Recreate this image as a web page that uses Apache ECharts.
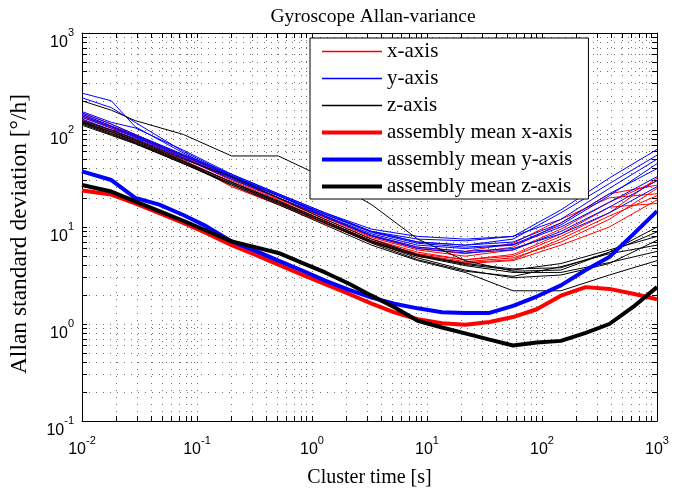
<!DOCTYPE html>
<html>
<head>
<meta charset="utf-8">
<title>Gyroscope Allan-variance</title>
<script src="https://cdn.jsdelivr.net/npm/echarts@6/dist/echarts.min.js"></script>
<style>
html, body { margin: 0; padding: 0; background: #fff; }
#chart { width: 683px; height: 493px; }
</style>
</head>
<body>
<div id="chart"></div>
<script>
// cluster times [s] of the assembly means
const tauMean = [0.01, 0.018, 0.029, 0.047, 0.076, 0.12, 0.2, 0.32, 0.51, 0.85, 1.3, 2.1, 3.3, 5.2, 8.3, 13.5, 21.5, 35, 56, 90, 146, 240, 385, 620, 1000]
// cluster times [s] of the single sensor runs
const tauRun = [0.01, 0.018, 0.029, 0.076, 0.2, 0.51, 1.3, 3.3, 8.3, 21.5, 56, 146, 385, 1000]

// assembly means [deg/h]
const meanX = [23.8, 21.6, 17.5, 13.9, 11.0, 8.7, 6.5, 5.2, 4.1, 3.17, 2.57, 2.04, 1.62, 1.32, 1.12, 1.02, 0.98, 1.05, 1.18, 1.42, 1.96, 2.4, 2.3, 2.05, 1.8]
const meanY = [37.5, 30.5, 20.0, 17.0, 13.3, 10.2, 7.1, 5.7, 4.5, 3.5, 2.8, 2.25, 1.87, 1.62, 1.45, 1.32, 1.3, 1.3, 1.54, 1.92, 2.5, 3.6, 4.9, 8.4, 14.6]
const meanZ = [27.1, 23.2, 18.4, 14.6, 11.6, 9.2, 7.1, 6.2, 5.4, 4.2, 3.4, 2.6, 1.96, 1.49, 1.08, 0.92, 0.8, 0.69, 0.6, 0.645, 0.67, 0.81, 1.0, 1.5, 2.4]

// single gyroscopes, x-axis [deg/h]
const runsX = [
  [140, 105, 86, 52, 31, 19.5, 12, 7.5, 5.5, 4.6, 5.0, 8, 14, 32],
  [125, 100, 90, 52, 30, 19, 11.5, 7.2, 5.2, 4.4, 4.8, 7, 12, 25],
  [150, 115, 90, 55, 33, 20, 12.5, 7.8, 5.8, 5.0, 5.8, 9.5, 18, 30],
  [118, 92, 75, 47, 27, 17.5, 11, 7, 5.0, 4.2, 4.5, 6.5, 10, 19],
  [135, 108, 85, 53, 32, 20, 12.5, 8, 6, 5.3, 6.2, 11, 22, 27],
  [128, 98, 80, 49, 29, 18, 11.3, 7.2, 5.3, 4.6, 5.2, 8.5, 16, 17.5],
  [145, 110, 88, 54, 33, 21, 13, 8.2, 6.2, 5.6, 6.8, 12, 20, 22],
  [122, 96, 78, 48, 26, 17, 10.8, 6.9, 5.0, 4.3, 4.6, 7.5, 13, 21]
]
// single gyroscopes, y-axis [deg/h]
const runsY = [
  [240, 200, 108, 58, 33, 21, 13.5, 9, 7.5, 7.2, 8, 15, 32, 63],
  [215, 170, 120, 60, 34, 21, 13.5, 9, 7, 6.5, 7.5, 14, 28, 55],
  [155, 120, 105, 62, 35, 22, 14, 9.5, 8, 7.5, 8, 12, 25, 50],
  [140, 108, 86, 54, 33, 21, 13, 8.5, 6.5, 6, 6.5, 10, 18, 33],
  [135, 104, 84, 52, 32, 20, 12.8, 8.2, 6.2, 5.6, 6, 8.5, 14, 26],
  [150, 115, 90, 56, 35, 22, 14, 9, 7, 6.5, 7, 11, 22, 40],
  [145, 110, 88, 55, 34, 21.5, 13.5, 8.8, 6.8, 6.2, 6.6, 10.5, 21, 45],
  [130, 100, 82, 51, 31, 20, 12.7, 8.1, 6, 5.4, 5.8, 9, 16, 30]
]
// single gyroscopes, z-axis [deg/h]
const runsZ = [
  [200, 160, 125, 90, 54, 54, 32, 17, 7.5, 4.5, 3.5, 3.6, 5.5, 8.9],
  [125, 100, 80, 50, 33, 20, 12, 7.5, 5.2, 4.2, 3.7, 3.8, 5.5, 10],
  [118, 92, 74, 46, 28, 18, 11, 7, 4.8, 3.6, 3.0, 3.2, 4.2, 7.3],
  [112, 88, 72, 45, 27, 17, 10.5, 6.5, 4.5, 3.4, 2.2, 2.2, 3.2, 4.5],
  [120, 95, 76, 47, 29, 18.5, 11.5, 7, 5, 4.0, 3.4, 3.4, 4.3, 5.6],
  [115, 90, 73, 45, 28, 17.5, 11, 6.8, 4.6, 3.5, 3.1, 3.9, 5.3, 6.5],
  [122, 96, 78, 48, 29, 18.5, 11.5, 7.2, 5.1, 4.1, 3.6, 4.2, 5.8, 8]
]

// axis labels (decades)
const xDecades = [0.01, 0.1, 1, 10, 100, 1000]
const yDecades = [0.1, 1, 10, 100, 1000]

const red = '#ff0000'
const blue = '#0000ff'
const black = '#000000'
const serif = 'Liberation Serif'
const sans = 'Liberation Sans'

// 1..9 in every decade, for ticks and the dotted grid
const withMinors = (decades) => {
  const out = []
  decades.forEach((d, i) => {
    if (i === decades.length - 1) { out.push(d); return }
    for (let k = 1; k <= 9; k++) out.push(+(d * k).toPrecision(3))
  })
  return out
}
const xTicks = withMinors(xDecades)
const yTicks = withMinors(yDecades)

const powLabel = (v) => '{b|10}{e|' + Math.round(Math.log10(v)) + '}'
const powRich = {
  b: { fontFamily: sans, fontSize: 16, color: '#000', padding: [7, 0, 0, 0], verticalAlign: 'bottom' },
  e: { fontFamily: sans, fontSize: 11, color: '#000', verticalAlign: 'top' }
}

const gridLine = { show: true, lineStyle: { color: '#000', width: 1, type: [1, 6], opacity: 0.55 } }

// legend samples: thin and thick line strokes
const thinIcon = 'path://M0,0h60v1.5h-60z'
const thickIcon = 'path://M0,0h60v4h-60z'
const legendItem = (name, icon, color) => ({
  name,
  icon,
  itemStyle: { color, borderColor: color, borderWidth: 0, opacity: 1 }
})

const runSeries = (name, color, runs) => runs.map(run => ({
  name,
  type: 'line',
  data: tauRun.map((t, i) => [t, run[i]]),
  symbol: 'none',
  lineStyle: { color, width: 1 },
  itemStyle: { color },
  silent: true,
  z: 2
}))

const meanSeries = (name, color, vals) => ({
  name,
  type: 'line',
  data: tauMean.map((t, i) => [t, vals[i]]),
  symbol: 'none',
  lineStyle: { color, width: 4 },
  itemStyle: { color },
  silent: true,
  z: 3
})

const chart = echarts.init(document.getElementById('chart'))

const option = {
  animation: false,
  backgroundColor: '#fff',
  color: [red, blue, black],
  title: {
    text: 'Gyroscope Allan-variance',
    left: 368,
    top: 2,
    textAlign: 'center',
    textStyle: { fontFamily: serif, fontSize: 19.5, fontWeight: 'normal', color: '#000' }
  },
  legend: {
    orient: 'vertical',
    left: 310,
    top: 38,
    padding: [3, 16, 2, 12],
    itemWidth: 60,
    itemHeight: 12,
    itemGap: 6,
    backgroundColor: '#fff',
    borderColor: '#000',
    borderWidth: 1,
    textStyle: { fontFamily: serif, fontSize: 21, color: '#000' },
    data: [
      legendItem('x-axis', thinIcon, red),
      legendItem('y-axis', thinIcon, blue),
      legendItem('z-axis', thinIcon, black),
      legendItem('assembly mean x-axis', thickIcon, red),
      legendItem('assembly mean y-axis', thickIcon, blue),
      legendItem('assembly mean z-axis', thickIcon, black)
    ]
  },
  grid: { left: 80, right: 26, top: 33, bottom: 59 },
  xAxis: [
    {
      type: 'log', logBase: 10, min: 0.01, max: 1000,
      name: 'Cluster time [s]', nameLocation: 'middle', nameGap: 47,
      nameTextStyle: { fontFamily: serif, fontSize: 20, color: '#000' },
      axisLine: { lineStyle: { color: '#000', width: 1 } },
      axisTick: { inside: true, length: 5, customValues: xTicks, lineStyle: { color: '#000' } },
      axisLabel: { customValues: xDecades, formatter: powLabel, rich: powRich, margin: 14 },
      splitLine: gridLine
    },
    {
      type: 'log', logBase: 10, min: 0.01, max: 1000, position: 'top',
      axisLine: { lineStyle: { color: '#000', width: 1 } },
      axisTick: { inside: true, length: 5, customValues: xTicks, lineStyle: { color: '#000' } },
      axisLabel: { show: false },
      splitLine: { show: false }
    }
  ],
  yAxis: [
    {
      type: 'log', logBase: 10, min: 0.1, max: 1000,
      name: 'Allan standard deviation [°/h]', nameLocation: 'middle', nameGap: 50,
      nameTextStyle: { fontFamily: serif, fontSize: 23.5, color: '#000', padding: [0, 14, 0, 0] },
      axisLine: { lineStyle: { color: '#000', width: 1 } },
      axisTick: { inside: true, length: 5, customValues: yTicks, lineStyle: { color: '#000' } },
      axisLabel: { customValues: yDecades, formatter: powLabel, rich: powRich, margin: 8, padding: [12, 0, 0, 0] },
      splitLine: gridLine
    },
    {
      type: 'log', logBase: 10, min: 0.1, max: 1000, position: 'right',
      axisLine: { lineStyle: { color: '#000', width: 1 } },
      axisTick: { inside: true, length: 5, customValues: yTicks, lineStyle: { color: '#000' } },
      axisLabel: { show: false },
      splitLine: { show: false }
    }
  ],
  series: [
    ...runSeries('x-axis', red, runsX),
    ...runSeries('y-axis', blue, runsY),
    ...runSeries('z-axis', black, runsZ),
    meanSeries('assembly mean x-axis', red, meanX),
    meanSeries('assembly mean y-axis', blue, meanY),
    meanSeries('assembly mean z-axis', black, meanZ)
  ]
}

chart.setOption(option)
</script>
</body>
</html>
